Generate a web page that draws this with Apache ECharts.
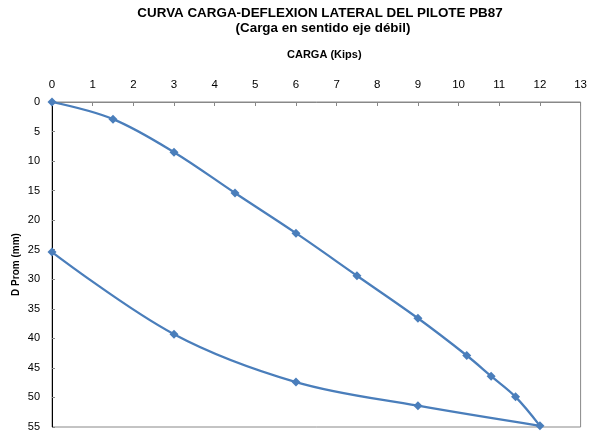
<!DOCTYPE html>
<html><head><meta charset="utf-8">
<script src="https://cdn.jsdelivr.net/npm/echarts@6/dist/echarts.min.js"></script>
<style>html,body{margin:0;padding:0;background:#fff}#c{width:590px;height:436px}</style>
</head><body><div id="c"></div>
<script>
const carga = [0, 1.5, 3, 4.5, 6, 7.5, 9, 10.2, 10.8, 11.4, 12, 9, 6, 3, 0];
const dProm = [0, 2.9, 8.5, 15.4, 22.2, 29.4, 36.6, 42.9, 46.4, 49.9, 54.8, 51.4, 47.4, 39.3, 25.4];
const xTicks = [0,1,2,3,4,5,6,7,8,9,10,11,12,13];
const yTicks = [0,5,10,15,20,25,30,35,40,45,50,55];

const data = carga.map((x, i) => [x, dProm[i]]);
const chart = echarts.init(document.getElementById('c'), null, {renderer: 'canvas'});
const ff = '"Liberation Sans", Arial, sans-serif';
chart.setOption({
  animation: false,
  backgroundColor: '#fff',
  title: [
    {text: 'CURVA CARGA-DEFLEXION LATERAL DEL PILOTE PB87', left: 320, top: 7, padding: 0, textAlign: 'center',
     textStyle: {fontFamily: ff, fontWeight: 'bold', fontSize: 13.4, color: '#000'}},
    {text: '(Carga en sentido eje débil)', left: 323, top: 22, padding: 0, textAlign: 'center',
     textStyle: {fontFamily: ff, fontWeight: 'bold', fontSize: 13.4, color: '#000'}}
  ],
  grid: {left: 52, right: 7, top: 102, bottom: 9, show: true, borderColor: '#888', borderWidth: 1},
  xAxis: {
    type: 'value', position: 'top', min: xTicks[0], max: xTicks[xTicks.length-1], interval: 1,
    name: 'CARGA (Kips)', nameLocation: 'middle', nameGap: 42, nameMoveOverlap: false,
    nameTextStyle: {fontFamily: ff, fontWeight: 'bold', fontSize: 11, color: '#000', padding: [0,0,0,16]},
    axisLine: {lineStyle: {color: '#888', width: 1}},
    axisTick: {inside: true, length: 4, lineStyle: {color: '#888'}},
    axisLabel: {fontFamily: ff, fontSize: 11.5, color: '#000', margin: 11,
      formatter: v => xTicks.includes(v) ? String(v) : ''},
    splitLine: {show: false}
  },
  yAxis: {
    type: 'value', inverse: true, min: yTicks[0], max: yTicks[yTicks.length-1], interval: 5,
    name: 'D Prom (mm)', nameLocation: 'middle', nameGap: 31, nameRotate: 90, nameMoveOverlap: false,
    nameTextStyle: {fontFamily: ff, fontWeight: 'bold', fontSize: 10, color: '#000'},
    axisLine: {lineStyle: {color: '#000', width: 1}},
    axisTick: {inside: true, length: 3, lineStyle: {color: '#888'}},
    axisLabel: {fontFamily: ff, fontSize: 11, color: '#000', margin: 12,
      formatter: v => yTicks.includes(v) ? String(v) : ''},
    splitLine: {show: false}
  },
  series: [{
    type: 'line', data: data, smooth: 0.35,
    symbol: 'diamond', symbolSize: 9,
    lineStyle: {color: '#4A7EBB', width: 2.25},
    itemStyle: {color: '#4A7EBB'}
  }]
});
</script></body></html>
